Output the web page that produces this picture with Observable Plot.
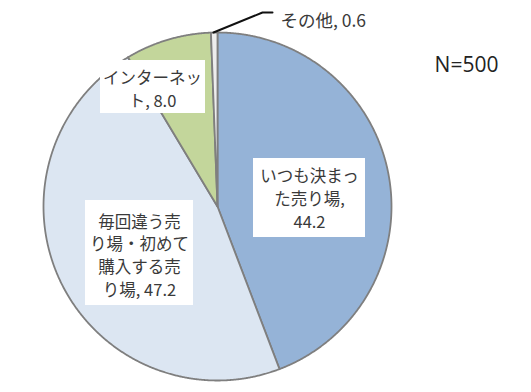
<!DOCTYPE html>
<html><head><meta charset="utf-8">
<script src="https://cdn.jsdelivr.net/npm/d3@7"></script>
<script src="https://cdn.jsdelivr.net/npm/@observablehq/plot@0.6"></script>
<style>body{margin:0;background:#fff}svg{display:block}</style>
</head><body><div id="chart"></div>
<script>
const categories = ["いつも決まった売り場", "毎回違う売り場・初めて購入する売り場", "インターネット", "その他"];
const values = [44.2, 47.2, 8.0, 0.6];
const labels = ["いつも決まっ\nた売り場,\n44.2", "毎回違う売\nり場・初めて\n購入する売\nり場, 47.2", "インターネッ\nト, 8.0", "その他, 0.6"];
const colors = ["#95B3D7", "#DCE6F2", "#C3D69B", "#EDEDED"];
const sampleSize = "N=500";

// layout (pixels)
const W = 531, H = 392, CX = 217, CY = 206, R = 174;
const px = p => (p - CX) / R, py = p => (CY - p) / R;

const pie = d3.pie().sort(null).value(d => d.value)(categories.map((c, i) => ({cat: c, value: values[i]})));
const pts = [];
pie.forEach(s => {
  pts.push({cat: s.data.cat, x: 0, y: 0});
  const n = Math.max(4, Math.ceil((s.endAngle - s.startAngle) / 0.005));
  for (let k = 0; k <= n; k++) {
    const a = s.startAngle + (s.endAngle - s.startAngle) * k / n;
    pts.push({cat: s.data.cat, x: Math.sin(a), y: Math.cos(a)});
  }
  pts.push({cat: s.data.cat, x: 0, y: 0});
});

const boxes = [
  {x1: 253, x2: 365, y1: 158, y2: 237, tx: 309, ty: 197, i: 0},
  {x1: 85, x2: 193, y1: 200, y2: 305, tx: 139, ty: 254, i: 1},
  {x1: 100, x2: 205, y1: 60, y2: 113, tx: 152, ty: 88, i: 2}
];
const boxData = boxes.map(b => ({x1: px(b.x1), x2: px(b.x2), y1: py(b.y1), y2: py(b.y2), x: px(b.tx), y: py(b.ty), label: labels[b.i]}));
const leader = [[213, 32], [262, 12], [272, 12]].map(([a, b]) => ({x: px(a), y: py(b)}));

const chart = Plot.plot({
  width: W, height: H,
  marginLeft: CX - R, marginRight: W - (CX + R), marginTop: CY - R, marginBottom: H - (CY + R),
  x: {domain: [-1, 1], axis: null},
  y: {domain: [-1, 1], axis: null},
  color: {domain: categories, range: colors},
  style: {fontFamily: "'Noto Sans CJK JP', sans-serif", background: "#fff"},
  marks: [
    Plot.line(pts, {x: "x", y: "y", z: "cat", fill: "cat", stroke: "#7F7F7F", strokeWidth: 1.8, strokeLinejoin: "round"}),
    Plot.rect(boxData, {x1: "x1", x2: "x2", y1: "y1", y2: "y2", fill: "#fff"}),
    Plot.text(boxData, {x: "x", y: "y", text: "label", fontSize: 16.5, lineHeight: 1.38, fill: "#3a3a3a"}),
    Plot.line(leader, {x: "x", y: "y", stroke: "#111", strokeWidth: 2}),
    Plot.text([labels[3]], {x: px(280), y: py(21), text: d => d, textAnchor: "start", fontSize: 17.5, fill: "#3a3a3a"}),
    Plot.text([sampleSize], {x: px(466), y: py(65), text: d => d, fontSize: 21, fill: "#222", fontFamily: "'Open Sans', sans-serif"})
  ]
});
document.getElementById("chart").append(chart);
</script>
</body></html>
